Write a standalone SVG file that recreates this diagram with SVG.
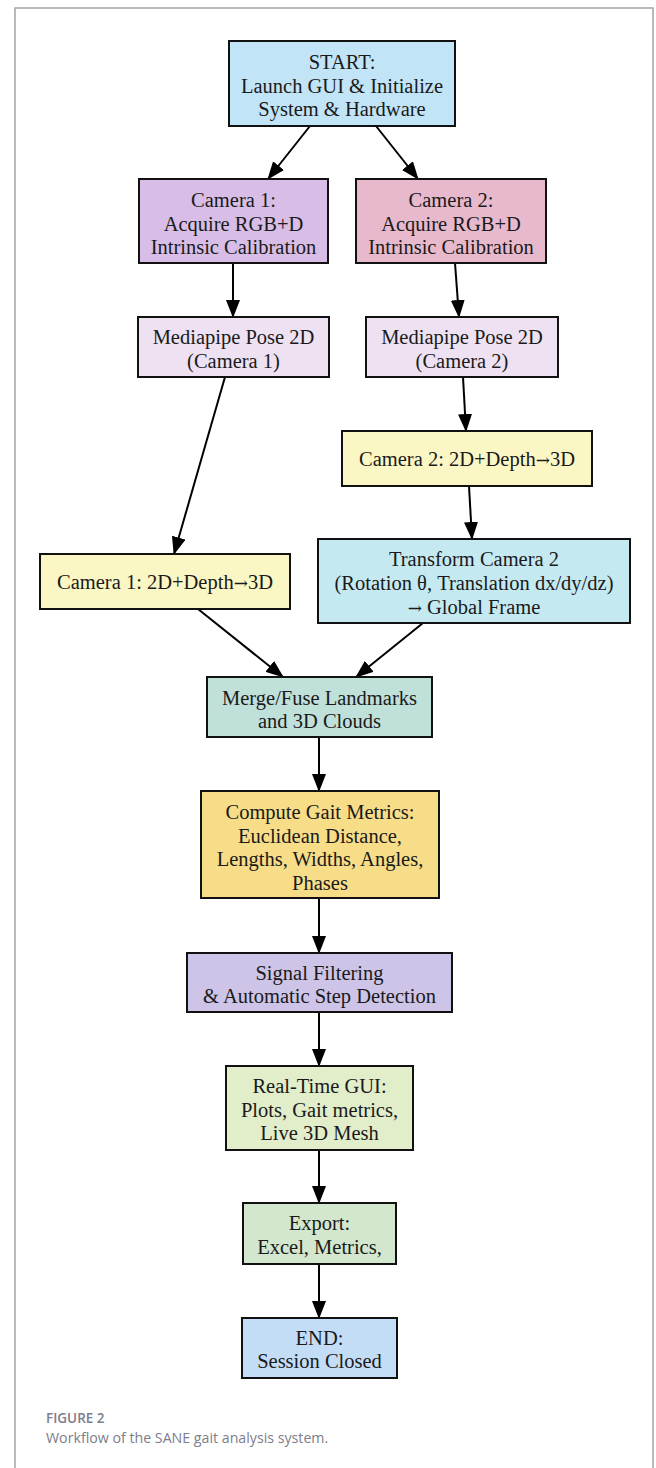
<svg xmlns="http://www.w3.org/2000/svg" width="656" height="1468" viewBox="0 0 656 1468">
<style>
.n rect{stroke:#111;stroke-width:2}
.n text{font-family:"Liberation Serif","Times New Roman",serif;font-size:20.5px;fill:#1a1a1a;text-anchor:middle}
.ar{font-family:"DejaVu Serif",serif;font-size:17px}
.e line{stroke:#000;stroke-width:2;marker-end:url(#ah)}
.cap{font-family:"Open Sans","Noto Sans",sans-serif;fill:#7d7d8c}
</style>
<defs>
<marker id="ah" markerUnits="userSpaceOnUse" markerWidth="18" markerHeight="14" viewBox="0 0 18 14" refX="17" refY="7" orient="auto">
<path d="M0,0 L18,7 L0,14 z" fill="#000"/>
</marker>
</defs>
<rect width="656" height="1468" fill="#fff"/>
<path d="M15,1470 L15,8 L653,8 L653,1470" fill="none" stroke="#a3a3ab" stroke-width="1.5"/>
<g class="e" id="connectors">
<line x1="310" y1="126" x2="268" y2="179"/>
<line x1="376" y1="126" x2="418" y2="179"/>
<line x1="233" y1="263" x2="233" y2="317"/>
<line x1="455" y1="263" x2="459" y2="317"/>
<line x1="225" y1="377" x2="174" y2="554"/>
<line x1="463" y1="377" x2="466" y2="431"/>
<line x1="469" y1="486" x2="472" y2="539"/>
<line x1="198" y1="609" x2="283" y2="677"/>
<line x1="423" y1="623" x2="356" y2="677"/>
<line x1="319" y1="737" x2="319" y2="791"/>
<line x1="319" y1="898" x2="319" y2="953"/>
<line x1="319" y1="1012" x2="319" y2="1066"/>
<line x1="319" y1="1150" x2="319" y2="1203"/>
<line x1="319" y1="1264" x2="319" y2="1318"/>
</g>
<g class="n" id="start">
<rect x="229" y="41" width="226" height="85" fill="#c2e4f7"/>
<text x="342" y="69">START:</text>
<text x="342" y="93">Launch GUI &amp; Initialize</text>
<text x="342" y="116">System &amp; Hardware</text>
</g>
<g class="n" id="cam1">
<rect x="139" y="179" width="189" height="84" fill="#d8bee6"/>
<text x="233.5" y="207">Camera 1:</text>
<text x="233.5" y="231">Acquire RGB+D</text>
<text x="233.5" y="254">Intrinsic Calibration</text>
</g>
<g class="n" id="cam2">
<rect x="356" y="179" width="190" height="84" fill="#e8b9cc"/>
<text x="451" y="207">Camera 2:</text>
<text x="451" y="231">Acquire RGB+D</text>
<text x="451" y="254">Intrinsic Calibration</text>
</g>
<g class="n" id="mp1">
<rect x="138" y="317" width="191" height="60" fill="#ede1f2"/>
<text x="233.5" y="344">Mediapipe Pose 2D</text>
<text x="233.5" y="368">(Camera 1)</text>
</g>
<g class="n" id="mp2">
<rect x="366" y="317" width="192" height="60" fill="#ede1f2"/>
<text x="462" y="344">Mediapipe Pose 2D</text>
<text x="462" y="368">(Camera 2)</text>
</g>
<g class="n" id="c2_3d">
<rect x="342" y="431" width="250" height="55" fill="#fbf7c5"/>
<text x="467" y="466">Camera 2: 2D+Depth<tspan class="ar">→</tspan>3D</text>
</g>
<g class="n" id="transform">
<rect x="318" y="539" width="312" height="84" fill="#c5e9f1"/>
<text x="474" y="566">Transform Camera 2</text>
<text x="474" y="590">(Rotation θ, Translation dx/dy/dz)</text>
<text x="474" y="614"><tspan class="ar">→</tspan> Global Frame</text>
</g>
<g class="n" id="c1_3d">
<rect x="40" y="554" width="250" height="55" fill="#fbf7c5"/>
<text x="165" y="589">Camera 1: 2D+Depth<tspan class="ar">→</tspan>3D</text>
</g>
<g class="n" id="merge">
<rect x="207" y="677" width="225" height="60" fill="#c0e0da"/>
<text x="319.5" y="705">Merge/Fuse Landmarks</text>
<text x="319.5" y="728">and 3D Clouds</text>
</g>
<g class="n" id="compute">
<rect x="201" y="791" width="238" height="107" fill="#f7dd87"/>
<text x="320" y="819">Compute Gait Metrics:</text>
<text x="320" y="842.5">Euclidean Distance,</text>
<text x="320" y="866">Lengths, Widths, Angles,</text>
<text x="320" y="889.5">Phases</text>
</g>
<g class="n" id="signal">
<rect x="187" y="953" width="265" height="59" fill="#cdc4e8"/>
<text x="319.5" y="980">Signal Filtering</text>
<text x="319.5" y="1003">&amp; Automatic Step Detection</text>
</g>
<g class="n" id="gui">
<rect x="226" y="1066" width="187" height="84" fill="#e2edca"/>
<text x="319.5" y="1093">Real-Time GUI:</text>
<text x="319.5" y="1117">Plots, Gait metrics,</text>
<text x="319.5" y="1140">Live 3D Mesh</text>
</g>
<g class="n" id="export">
<rect x="243" y="1203" width="153" height="61" fill="#d2e7cd"/>
<text x="319.5" y="1230">Export:</text>
<text x="319.5" y="1254">Excel, Metrics,</text>
</g>
<g class="n" id="end">
<rect x="242" y="1318" width="155" height="60" fill="#c4ddf7"/>
<text x="319.5" y="1345">END:</text>
<text x="319.5" y="1368">Session Closed</text>
</g>
<text class="cap" x="46" y="1423" font-size="13.5" font-weight="600">FIGURE 2</text>
<text class="cap" x="46" y="1443" font-size="14.2">Workflow of the SANE gait analysis system.</text>
</svg>
